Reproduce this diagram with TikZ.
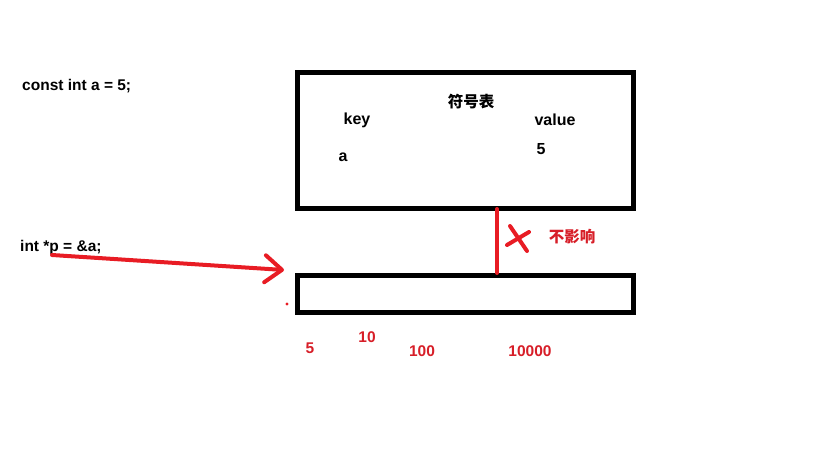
\documentclass[tikz,border=0pt]{standalone}
\usepackage{fontspec}
\setmainfont{Liberation Sans}
\newfontfamily\cjkfont{Noto Sans CJK SC}
\usetikzlibrary{arrows.meta}
\definecolor{paintred}{RGB}{232,28,36}
\definecolor{textred}{RGB}{215,30,40}
\tikzset{
  box/.style={draw=black, line width=5pt, inner sep=0pt},
  code/.style={font=\fontsize{15.5}{18}\selectfont\bfseries, text=black, inner sep=0pt},
  lbl/.style={font=\fontsize{16}{18}\selectfont\bfseries, text=black, inner sep=0pt},
  cjk/.style={font=\fontsize{15.5}{18}\selectfont\cjkfont\bfseries, inner sep=0pt},
  num/.style={font=\fontsize{15.5}{18}\selectfont\bfseries, text=textred, inner sep=0pt},
  redline/.style={draw=paintred, line width=4pt, line cap=round},
}
\begin{document}
\begin{tikzpicture}[x=1pt,y=-1pt]
\useasboundingbox (0,0) rectangle (819,460);
% boxes
\node[box, minimum width=336pt, minimum height=135pt] (top) at (465,140.5) {};
\node[box, minimum width=336pt, minimum height=37pt] (bot) at (465,293.5) {};
% left code
\node[code, anchor=west] (c1) at (22,86) {const int a = 5;};
\node[code, anchor=west] (c2) at (20,247) {int *p = \&a;};
% table contents
\node[cjk, text=black] (title) at (471,102) {符号表};
\node[lbl] (key) at (357,120) {key};
\node[lbl] (val) at (555,120) {value};
\node[lbl] (ka) at (343,157) {a};
\node[lbl] (v5) at (541,149) {5};
% red connector
\coordinate (vtop) at (497,209);
\coordinate (vbot) at (497,273);
\draw[redline] (vtop) -- (vbot);
\draw[redline] (510,226) -- (527,251);
\draw[redline] (507,245) -- (529,232);
\node[cjk, text=textred] (noinf) at (572,237) {不影响};
% arrow
\coordinate (pstart) at (52,255);
\coordinate (ptip) at (284,270);
\draw[draw=paintred, line width=4pt, line cap=round,
  -{Straight Barb[length=17pt, width=27pt, line width=4pt, round]}] (pstart) -- (ptip);
\fill[paintred] (287,304) circle (1.6pt);
% numbers
\node[num] (n5) at (310,348) {5};
\node[num] (n10) at (367,337) {10};
\node[num] (n100) at (422,351) {100};
\node[num] (n10000) at (530,351) {10000};
\end{tikzpicture}
\end{document}
